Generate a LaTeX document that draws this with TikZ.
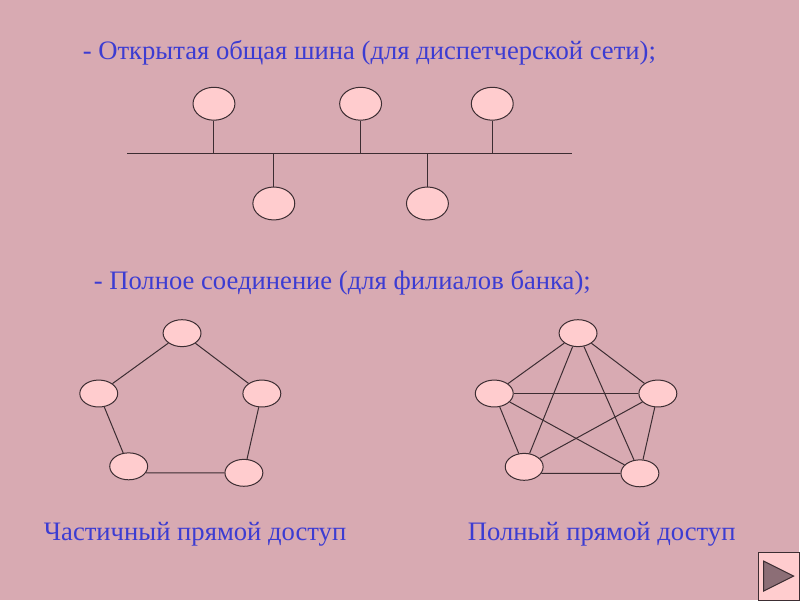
\documentclass[tikz,border=0pt]{standalone}
\usepackage{fontspec}
\setmainfont{Liberation Serif}
\usetikzlibrary{shapes.geometric}
\definecolor{slidebg}{RGB}{216,170,178}
\definecolor{nodefill}{RGB}{255,204,206}
\definecolor{linecol}{RGB}{60,45,50}
\definecolor{textblue}{RGB}{60,60,210}
\definecolor{arrowfill}{RGB}{140,110,118}

\begin{document}
\begin{tikzpicture}[
	x=1pt, y=-1pt,
	every path/.style={line width=1pt, draw=linecol},
	station/.style={ellipse, draw=linecol, fill=nodefill, minimum width=42pt, minimum height=33pt, inner sep=0pt},
	branch/.style={ellipse, draw=linecol, fill=nodefill, minimum width=38pt, minimum height=27pt, inner sep=0pt},
	caption/.style={anchor=west, inner sep=0pt, text=textblue, font=\fontsize{26.7}{30}\selectfont},
]
	\fill [slidebg] (0,0) rectangle (800,600);

	% bus
	\node [caption] (t1) at (82,52) {- Открытая общая шина (для диспетчерской сети);};

	\coordinate (l) at (127,153);
	\coordinate (r) at (573,153);
	\draw (l) -- (r);

	\node [station] (a) at (214,103.5) {};
	\node [station] (b) at (361,103.5) {};
	\node [station] (c) at (493,103.5) {};
	\node [station] (d) at (274,203.5) {};
	\node [station] (e) at (428,203.5) {};

	\draw (a) -- (a |- l);
	\draw (b) -- (b |- l);
	\draw (c) -- (c |- l);
	\draw (d) -- (d |- l);
	\draw (e) -- (e |- l);

	% partial
	\node [caption] (t2) at (93,283) {- Полное соединение (для филиалов банка);};

	\node [branch] (a) at (182,333.5) {};
	\node [branch] (b) at (98.5,394) {};
	\node [branch] (c) at (128.5,467) {};
	\node [branch] (d) at (244,473.5) {};
	\node [branch] (e) at (262,394) {};

	\draw (a) -- (b);
	\draw (b) -- (c);
	\draw (c.-21) -- (d.west);
	\draw (d) -- (e);
	\draw (e) -- (a);

	\node [caption] (t3) at (43,535) {Частичный прямой доступ};

	% full
	\node [branch] (a) at (579,333.5) {};
	\node [branch] (b) at (495,394) {};
	\node [branch] (c) at (525,467.5) {};
	\node [branch] (d) at (641,474) {};
	\node [branch] (e) at (659,394) {};

	\draw (a) -- (b);
	\draw (b) -- (c);
	\draw (c.-21) -- (d.west);
	\draw (d) -- (e);
	\draw (e) -- (a);
	\draw (a) -- (c);
	\draw (a) -- (d);
	\draw (b) -- (d);
	\draw (b) -- (e);
	\draw (c) -- (e);

	\node [caption] (t4) at (468,535) {Полный прямой доступ};

	% next button
	\filldraw [fill=nodefill] (760,553) rectangle (801,601);
	\filldraw [fill=arrowfill] (765,562) -- (795,577) -- (765,592) -- cycle;
\end{tikzpicture}
\end{document}
